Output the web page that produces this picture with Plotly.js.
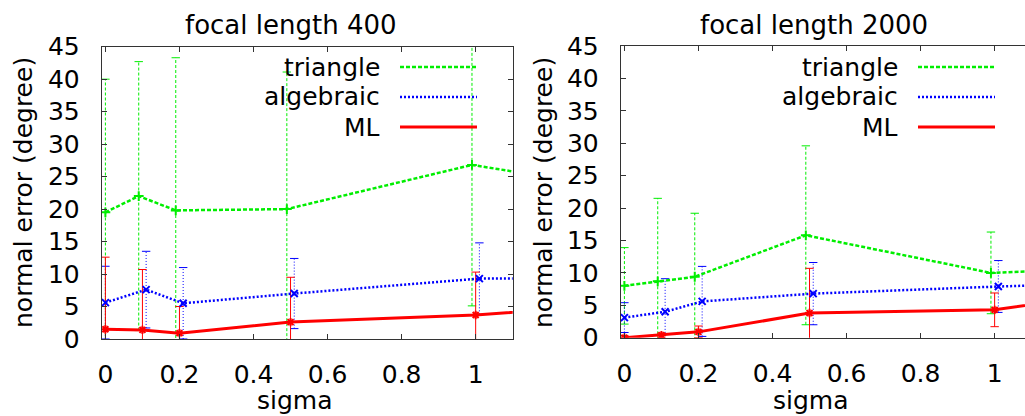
<!DOCTYPE html>
<html>
<head>
<meta charset="utf-8">
<script src="https://cdn.plot.ly/plotly-3.0.1.min.js"></script>
<style>html,body{margin:0;padding:0;background:#fff;}#chart{width:1025px;height:416px;}</style>
</head>
<body>
<div id="chart"></div>
<script>
// ---- data ----
const seriesNames = ["triangle", "algebraic", "ML"];
const panelTitles = ["focal length 400", "focal length 2000"];
const xTitle = "sigma";
const yTitle = "normal error (degree)";

// sigma positions (series are slightly offset in the original plot)
const triX = [0, 0.09, 0.19, 0.49, 0.99, 1.99];
const algX = [0, 0.11, 0.21, 0.51, 1.01, 2.01];
const mlX  = [0, 0.10, 0.20, 0.50, 1.00, 2.00];

// focal length 400
const tri400    = [19.5, 22.0, 19.8, 20.0, 26.8, 17.7];
const tri400Err = [20.5, 20.7, 23.5, 21.1, 21.7, 21.0];
const alg400    = [5.6, 7.6, 5.5, 7.0, 9.3, 9.3];
const alg400Err = [5.6, 5.9, 5.5, 5.4, 5.5, 5.5];
const ml400     = [1.5, 1.4, 0.9, 2.6, 3.7, 7.7];
const ml400Err  = [11.1, 9.3, 4.1, 6.9, 6.6, 6.0];

// focal length 2000
const tri2000    = [8.0, 8.7, 9.4, 15.8, 10.0, 12.2];
const tri2000Err = [5.9, 12.8, 9.8, 13.8, 6.3, 6.0];
const alg2000    = [3.1, 4.0, 5.6, 6.8, 7.9, 9.6];
const alg2000Err = [2.3, 5.1, 5.4, 4.8, 4.0, 4.0];
const ml2000     = [0.0, 0.4, 0.9, 3.8, 4.3, 12.4];
const ml2000Err  = [0.3, 0.3, 0.9, 6.9, 2.6, 3.0];

// ---- styles ----
const FONT = "DejaVu Sans";
const colors = ["#00ee00", "#0000ff", "#ff0000"];
const lineDash = ["4px,2px", "2px,2px", "solid"];
const lineWidth = [2.5, 2.5, 3];
const barDash = ["3px,2px", "1px,2px", "solid"];
const markerSym = ["cross-thin-open", "x-thin-open", "asterisk-open"];

function errTrace(xs, ys, es, k, xa, ya) {
  const X = [], Y = [];
  for (let i = 0; i < xs.length; i++) {
    X.push(xs[i], xs[i], null);
    Y.push(ys[i] - es[i], ys[i] + es[i], null);
  }
  return {
    x: X, y: Y, xaxis: xa, yaxis: ya, type: "scatter", mode: "lines+markers",
    showlegend: false, hoverinfo: "skip",
    line: {color: colors[k], width: 1, dash: barDash[k]},
    marker: {symbol: "line-ew-open", size: 6, color: colors[k], line: {color: colors[k], width: 1}}
  };
}
function mainTrace(xs, ys, k, xa, ya) {
  return {
    x: xs, y: ys, xaxis: xa, yaxis: ya, type: "scatter", mode: "lines+markers",
    name: seriesNames[k], showlegend: false,
    line: {color: colors[k], width: lineWidth[k], dash: lineDash[k]},
    marker: {symbol: markerSym[k], size: 7, color: colors[k], line: {color: colors[k], width: 2}}
  };
}

const panels = [
  {xa: "x", ya: "y", ys: [tri400, alg400, ml400], es: [tri400Err, alg400Err, ml400Err]},
  {xa: "x2", ya: "y2", ys: [tri2000, alg2000, ml2000], es: [tri2000Err, alg2000Err, ml2000Err]}
];
const xsAll = [triX, algX, mlX];
const traces = [];
panels.forEach(p => {
  for (let k = 0; k < 3; k++) traces.push(errTrace(xsAll[k], p.ys[k], p.es[k], k, p.xa, p.ya));
  for (let k = 0; k < 3; k++) traces.push(mainTrace(xsAll[k], p.ys[k], k, p.xa, p.ya));
});

const W = 1025, H = 416;
const px = v => v / W, py = v => 1 - v / H;
const frame = "#333333";
const tickFont = {family: FONT, size: 25, color: "#000"};

function xAxis(domain, range, anchor, mirror) {
  return {
    domain: domain, range: range, anchor: anchor, tickvals: [0, 0.2, 0.4, 0.6, 0.8, 1],
    ticktext: ["0", "0.2", "0.4", "0.6", "0.8", "1"],
    ticks: "inside", ticklen: 5, tickwidth: 1, tickcolor: frame,
    showline: true, linecolor: frame, linewidth: 1, mirror: mirror,
    showgrid: false, zeroline: false, tickfont: tickFont, ticklabelstandoff: 13
  };
}
function yAxis(domain, anchor, mirror) {
  return {
    domain: domain, range: [0, 45], anchor: anchor, dtick: 5, tick0: 0,
    ticks: "inside", ticklen: 5, tickwidth: 1, tickcolor: frame,
    showline: true, linecolor: frame, linewidth: 1, mirror: mirror,
    showgrid: false, zeroline: false, tickfont: tickFont, ticklabelstandoff: 16
  };
}

const annFont = {family: FONT, size: 25, color: "#000"};
const annotations = [];
const shapes = [];
// titles
annotations.push({text: panelTitles[0], x: px(291), y: py(25), xref: "paper", yref: "paper", showarrow: false, xanchor: "center", yanchor: "middle", font: {family: FONT, size: 26, color: "#000"}});
annotations.push({text: panelTitles[1], x: px(814), y: py(25), xref: "paper", yref: "paper", showarrow: false, xanchor: "center", yanchor: "middle", font: {family: FONT, size: 26, color: "#000"}});
// axis titles
[[23, 295], [543, 811]].forEach(([yx, sx]) => {
  annotations.push({text: yTitle, x: px(yx), y: py(193), xref: "paper", yref: "paper", showarrow: false, textangle: -90, xanchor: "center", yanchor: "middle", font: annFont});
  annotations.push({text: xTitle, x: px(sx), y: 0, xref: "paper", yref: "paper", showarrow: false, xanchor: "center", yanchor: "bottom", borderpad: 0, font: annFont});
});
// legends (text right, sample line to the right, as gnuplot draws)
const legendRows = [67, 97, 127];
[[382, 400, 477], [900, 918, 995]].forEach(([tx, l0, l1]) => {
  for (let k = 0; k < 3; k++) {
    annotations.push({text: seriesNames[k], x: px(tx), y: py(legendRows[k]), xref: "paper", yref: "paper", showarrow: false, xanchor: "right", yanchor: "middle", font: annFont});
    shapes.push({type: "line", xref: "paper", yref: "paper", x0: px(l0), x1: px(l1), y0: py(legendRows[k]), y1: py(legendRows[k]),
      line: {color: colors[k], width: lineWidth[k], dash: lineDash[k]}});
  }
});

const layout = {
  width: W, height: H, margin: {l: 0, r: 0, t: 0, b: 0},
  paper_bgcolor: "#fff", plot_bgcolor: "#fff", showlegend: false,
  font: {family: FONT, color: "#000"},
  xaxis: xAxis([px(101.7), px(512.7)], [-0.01, 1.1], "y", "allticks"),
  yaxis: yAxis([py(339), py(46.7)], "x", "allticks"),
  xaxis2: xAxis([px(620.7), 1], [-0.01, 1.082], "y2", "allticks"),
  yaxis2: yAxis([py(337.7), py(46)], "x2", false),
  annotations: annotations, shapes: shapes
};

Plotly.newPlot("chart", traces, layout, {staticPlot: true, displayModeBar: false});
</script>
</body>
</html>
